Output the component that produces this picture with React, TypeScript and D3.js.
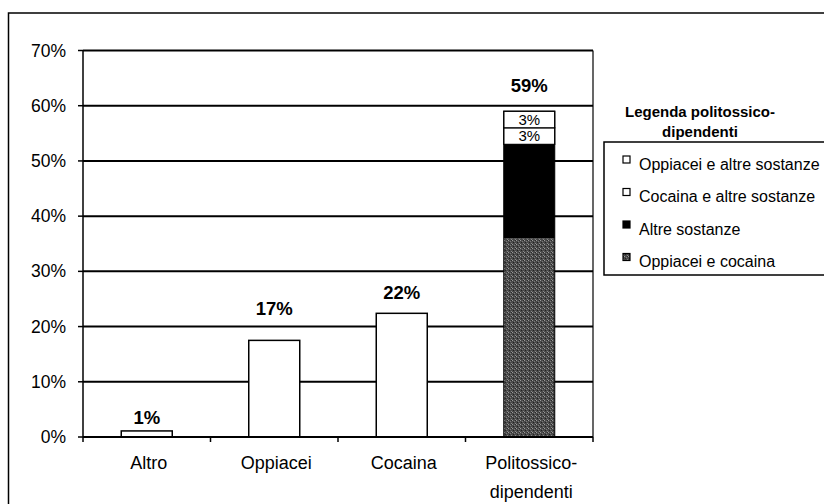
import React from "react";
import * as d3 from "d3";

const categories = ["Altro", "Oppiacei", "Cocaina", "Politossico-\ndipendenti"];
const singleValues = [0.011, 0.175, 0.224, null];
const totalLabels = ["1%", "17%", "22%", "59%"];
const stackKeys = ["Oppiacei e cocaina", "Altre sostanze", "Cocaina e altre sostanze", "Oppiacei e altre sostanze"];
const stackValues = [0.36, 0.17, 0.03, 0.03];
const stackLabels = ["", "", "3%", "3%"];
const legendOrder = ["Oppiacei e altre sostanze", "Cocaina e altre sostanze", "Altre sostanze", "Oppiacei e cocaina"];
const yTicks = [0, 0.1, 0.2, 0.3, 0.4, 0.5, 0.6, 0.7];

// layout (pixels above bar top for the total labels)
const labelLift = [13, 32, 21, 26];

const W = 824, H = 504;
const plot = { left: 83, right: 593, top: 50.5, bottom: 437 };
const FONT = "'Liberation Sans', Arial, sans-serif";

const fills: Record<string, string> = {
  "Oppiacei e cocaina": "url(#stipple)",
  "Altre sostanze": "#000",
  "Cocaina e altre sostanze": "#fff",
  "Oppiacei e altre sostanze": "#fff",
};

export default function App() {
  const x = d3.scaleBand<string>().domain(categories).range([plot.left, plot.right]).paddingInner(0.6).paddingOuter(0.3);
  const band = d3.scaleBand<string>().domain(categories).range([plot.left, plot.right]);
  const y = d3.scaleLinear().domain([0, 0.7]).range([plot.bottom, plot.top]);

  const stackRow: any = {};
  stackKeys.forEach((k, i) => (stackRow[k] = stackValues[i]));
  const series = d3.stack<any>().keys(stackKeys)([stackRow]);
  const polyCat = categories[3];
  const total = d3.sum(stackValues);

  const labelTop = (i: number) => {
    const v = i === 3 ? total : (singleValues[i] as number);
    return y(v) - labelLift[i];
  };

  return (
    <svg width={W} height={H} style={{ position: "absolute", left: 0, top: 0, background: "#fff" }} fontFamily={FONT}>
      <defs>
        <pattern id="stipple" width="4" height="4" patternUnits="userSpaceOnUse">
          <rect width="4" height="4" fill="#4a4a4a" />
          <rect x="0" y="0" width="1" height="1" fill="#9a9a9a" />
          <rect x="2" y="1" width="1" height="1" fill="#7a7a7a" />
          <rect x="1" y="2" width="1" height="1" fill="#222" />
          <rect x="3" y="3" width="1" height="1" fill="#8a8a8a" />
          <rect x="3" y="0" width="1" height="1" fill="#2a2a2a" />
        </pattern>
      </defs>
      {/* outer chart border */}
      <rect x={8.5} y={13} width={W + 10} height={H + 10} fill="none" stroke="#000" strokeWidth={1.5} />

      {/* gridlines and y ticks */}
      {yTicks.map((t) => (
        <g key={t}>
          {t > 0 && <line x1={plot.left} x2={plot.right} y1={y(t)} y2={y(t)} stroke="#000" strokeWidth={2} />}
          <line x1={plot.left - 5} x2={plot.left} y1={y(t)} y2={y(t)} stroke="#000" strokeWidth={1.5} />
          <text x={66} y={y(t)} dy="0.35em" textAnchor="end" fontSize={17.5} fill="#000">
            {d3.format(".0%")(t)}
          </text>
        </g>
      ))}
      {/* plot frame */}
      <line x1={plot.left} x2={plot.left} y1={plot.top} y2={plot.bottom + 5} stroke="#000" strokeWidth={1.5} />
      <line x1={plot.right} x2={plot.right} y1={plot.top} y2={plot.bottom} stroke="#000" strokeWidth={1.2} />

      {/* single bars */}
      {categories.slice(0, 3).map((c, i) => (
        <rect key={c} x={x(c)} y={y(singleValues[i] as number)} width={x.bandwidth()} height={plot.bottom - y(singleValues[i] as number)} fill="#fff" stroke="#000" strokeWidth={1.5} />
      ))}

      {/* stacked bar */}
      {series.map((s, i) => {
        const [y0, y1] = s[0];
        return (
          <g key={s.key}>
            <rect x={x(polyCat)} y={y(y1)} width={x.bandwidth()} height={y(y0) - y(y1)} fill={fills[s.key]} stroke={i < 2 ? "none" : "#000"} strokeWidth={1.2} />
            {stackLabels[i] && (
              <text x={(x(polyCat) as number) + x.bandwidth() / 2} y={(y(y0) + y(y1)) / 2} dy="0.36em" textAnchor="middle" fontSize={15} fill="#000">
                {stackLabels[i]}
              </text>
            )}
          </g>
        );
      })}
      <rect x={x(polyCat)} y={y(total)} width={x.bandwidth()} height={plot.bottom - y(total)} fill="none" stroke="#000" strokeWidth={1} />

      {/* x axis */}
      <line x1={plot.left} x2={plot.right} y1={plot.bottom} y2={plot.bottom} stroke="#000" strokeWidth={2} />
      {categories.map((c, i) => (
        <line key={"t" + i} x1={(band(c) as number) + band.bandwidth()} x2={(band(c) as number) + band.bandwidth()} y1={plot.bottom} y2={plot.bottom + 5} stroke="#000" strokeWidth={1.5} />
      ))}
      {categories.map((c) => (
        <text key={"l" + c} x={(band(c) as number) + band.bandwidth() / 2 + 2} y={463} dy="0.35em" textAnchor="middle" fontSize={18} fill="#000">
          {c.split("\n").map((ln, j) => (
            <tspan key={j} x={(band(c) as number) + band.bandwidth() / 2 + 2} dy={j === 0 ? "0.35em" : 29}>
              {ln}
            </tspan>
          ))}
        </text>
      ))}

      {/* total labels */}
      {categories.map((c, i) => (
        <text key={"v" + c} x={(x(c) as number) + x.bandwidth() / 2} y={labelTop(i)} dy="0.35em" textAnchor="middle" fontSize={18.5} fontWeight="bold" fill="#000">
          {totalLabels[i]}
        </text>
      ))}

      {/* legend */}
      <text x={700} y={112} dy="0.35em" textAnchor="middle" fontSize={15} fontWeight="bold" fill="#000">Legenda politossico-</text>
      <text x={700} y={132} dy="0.35em" textAnchor="middle" fontSize={15} fontWeight="bold" fill="#000">dipendenti</text>
      <rect x={604} y={142} width={240} height={133} fill="#fff" stroke="#000" strokeWidth={1.5} />
      {legendOrder.map((k, i) => {
        const cy = 164 + i * 32.5;
        return (
          <g key={k}>
            <rect x={623} y={cy - 8} width={7} height={7} fill={fills[k]} stroke="#000" strokeWidth={1.2} />
            <text x={639} y={cy} dy="0.35em" fontSize={16} fill="#000">{k}</text>
          </g>
        );
      })}
    </svg>
  );
}
